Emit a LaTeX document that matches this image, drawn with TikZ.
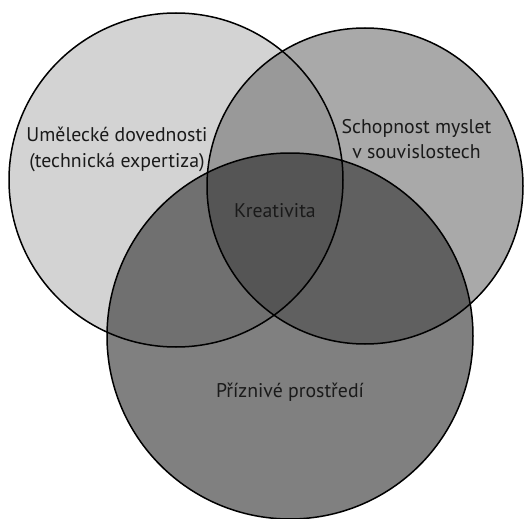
\documentclass[tikz,border=0pt]{standalone}
\usepackage{fontspec}
\setmainfont{PT Sans}
\definecolor{cL}{HTML}{D3D3D3}
\definecolor{cR}{HTML}{A9A9A9}
\definecolor{cB}{HTML}{808080}
\definecolor{cLR}{HTML}{999999}
\definecolor{cLB}{HTML}{707070}
\definecolor{cRB}{HTML}{606060}
\definecolor{cLRB}{HTML}{555555}
\definecolor{txt}{HTML}{1A1A1A}
\begin{document}
\begin{tikzpicture}[x=1pt,y=-1pt,
  lbl/.style={font=\fontsize{19.8}{25.5}\selectfont, text=txt, align=center, inner sep=0pt},
  ring/.style={draw=black, line width=1.5pt}]
\useasboundingbox (0,0) rectangle (528,519);
\def\Lc{(176,180) circle (167)}
\def\Rc{(365,186) circle (158)}
\def\Bc{(290,336) circle (183)}
\fill[cL] \Lc;
\fill[cR] \Rc;
\fill[cB] \Bc;
\begin{scope}\clip \Lc; \fill[cLR] \Rc; \end{scope}
\begin{scope}\clip \Lc; \fill[cLB] \Bc; \end{scope}
\begin{scope}\clip \Rc; \fill[cRB] \Bc; \end{scope}
\begin{scope}\clip \Lc; \clip \Rc; \fill[cLRB] \Bc; \end{scope}
\draw[ring] \Lc;
\draw[ring] \Rc;
\draw[ring] \Bc;
\node[lbl, anchor=base] (art) at (117,167) {Umělecké dovednosti\\(technická expertiza)};
\node[lbl, anchor=base] (ctx) at (416.5,158.5) {Schopnost myslet\\v souvislostech};
\node[lbl, anchor=base] (kre) at (275,217) {Kreativita};
\node[lbl, anchor=base] (env) at (290,397) {Příznivé prostředí};
\end{tikzpicture}
\end{document}
